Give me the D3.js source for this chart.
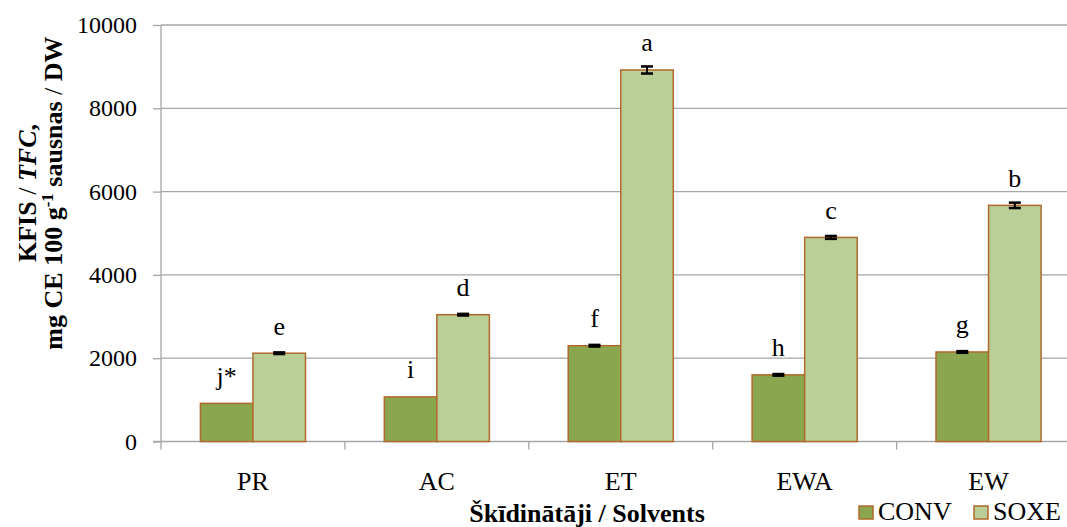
<!DOCTYPE html>
<html>
<head>
<meta charset="utf-8">
<script src="https://cdn.jsdelivr.net/npm/d3@7"></script>
<style>
  html, body { margin: 0; padding: 0; background: #fff; }
  svg { display: block; }
  text { font-family: "Liberation Serif", "Times New Roman", serif; fill: #000; }
</style>
</head>
<body>
<svg id="chart" width="1067" height="527"></svg>
<script>
const categories = ["PR", "AC", "ET", "EWA", "EW"];
const series = ["CONV", "SOXE"];
const convValues = [915, 1070, 2300, 1600, 2150];
const soxeValues = [2120, 3045, 8920, 4900, 5670];
const convErrors = [0, 0, 20, 20, 20];
const soxeErrors = [20, 20, 85, 35, 65];
const convLetters = ["j*", "i", "f", "h", "g"];
const soxeLetters = ["e", "d", "a", "c", "b"];
const yTicks = [0, 2000, 4000, 6000, 8000, 10000];

(function () {
const colors = { CONV: "#8aa64f", SOXE: "#bacf98" };
const barStroke = "#b0692a";
const gridColor = "#a6a6a6";
const serif = "'Liberation Serif', 'Times New Roman', serif";

const svg = d3.select("#chart");
const pLeft = 161, pRight = 1080.5, pTop = 25, pBottom = 441.5;

const y = d3.scaleLinear().domain([0, 10000]).range([pBottom, pTop]);
const x0 = d3.scaleBand().domain(categories).range([pLeft, pRight]).paddingInner(0).paddingOuter(0);
const x1 = d3.scaleBand().domain(series).range([0, x0.bandwidth()]).paddingInner(0).paddingOuter(0.75);

// gridlines
svg.append("g").selectAll("line").data(yTicks.filter(d => d > 0)).join("line")
  .attr("x1", pLeft).attr("x2", 1067)
  .attr("y1", d => y(d)).attr("y2", d => y(d))
  .attr("stroke", gridColor).attr("stroke-width", 1.3);

// y axis
const yAxis = d3.axisLeft(y).tickValues(yTicks).tickSize(8).tickPadding(16).tickFormat(d3.format("d"));
const gy = svg.append("g").attr("transform", `translate(${pLeft},0)`).call(yAxis);
gy.attr("font-family", serif).attr("font-size", 24);
gy.select(".domain").remove();
gy.selectAll(".tick line").attr("stroke", gridColor).attr("stroke-width", 1.3);
gy.selectAll(".tick text").attr("fill", "#000").attr("font-family", serif).attr("font-size", 24);
svg.append("line").attr("x1", pLeft).attr("x2", pLeft).attr("y1", pTop).attr("y2", pBottom + 8)
  .attr("stroke", gridColor).attr("stroke-width", 1.3);

// x axis baseline + ticks at band boundaries
svg.append("line").attr("x1", pLeft - 8).attr("x2", 1067).attr("y1", pBottom).attr("y2", pBottom)
  .attr("stroke", gridColor).attr("stroke-width", 1.3);
const bounds = categories.slice(1).map(c => x0(c));
svg.append("g").selectAll("line").data(bounds).join("line")
  .attr("x1", d => d).attr("x2", d => d).attr("y1", pBottom).attr("y2", pBottom + 8)
  .attr("stroke", gridColor).attr("stroke-width", 1.3);

// category labels
svg.append("g").selectAll("text").data(categories).join("text")
  .attr("x", d => x0(d) + x0.bandwidth() / 2).attr("y", 490)
  .attr("text-anchor", "middle").style("font-size", "26px").text(d => d);

// bars
const rows = categories.map((c, i) => ({
  cat: c,
  items: [
    { s: "CONV", v: convValues[i], e: convErrors[i], l: convLetters[i] },
    { s: "SOXE", v: soxeValues[i], e: soxeErrors[i], l: soxeLetters[i] }
  ]
}));

const groups = svg.append("g").selectAll("g").data(rows).join("g")
  .attr("transform", d => `translate(${x0(d.cat)},0)`);

groups.selectAll("rect").data(d => d.items).join("rect")
  .attr("x", d => x1(d.s)).attr("width", x1.bandwidth())
  .attr("y", d => y(d.v)).attr("height", d => y(0) - y(d.v))
  .attr("fill", d => colors[d.s]).attr("stroke", barStroke).attr("stroke-width", 1.5);

// error bars
const eb = groups.selectAll("g.err").data(d => d.items.filter(it => it.e > 0)).join("g").attr("class", "err");
const cx = d => x1(d.s) + x1.bandwidth() / 2;
eb.append("line")
  .attr("x1", cx).attr("x2", cx)
  .attr("y1", d => y(d.v + d.e)).attr("y2", d => y(d.v - d.e))
  .attr("stroke", "#000").attr("stroke-width", 2);
eb.append("line")
  .attr("x1", d => cx(d) - 6).attr("x2", d => cx(d) + 6)
  .attr("y1", d => y(d.v + d.e)).attr("y2", d => y(d.v + d.e))
  .attr("stroke", "#000").attr("stroke-width", 2.5);
eb.append("line")
  .attr("x1", d => cx(d) - 6).attr("x2", d => cx(d) + 6)
  .attr("y1", d => y(d.v - d.e)).attr("y2", d => y(d.v - d.e))
  .attr("stroke", "#000").attr("stroke-width", 2.5);

// significance letters
groups.selectAll("text.letter").data(d => d.items).join("text").attr("class", "letter")
  .attr("x", cx).attr("y", d => y(d.v) - 18.5)
  .attr("text-anchor", "middle").style("font-size", "26px").text(d => d.l);

// y axis title
const yt = svg.append("text").attr("transform", "translate(36,193) rotate(-90)")
  .attr("text-anchor", "middle").style("font-size", "26px").style("font-weight", "bold");
yt.append("tspan").text("KFIS ");
yt.append("tspan").style("font-weight", "normal").text("/");
yt.append("tspan").text(" ");
yt.append("tspan").style("font-style", "italic").text("TFC");
yt.append("tspan").text(",");

const yt2 = svg.append("text").attr("transform", "translate(62,193) rotate(-90)")
  .attr("text-anchor", "middle").style("font-size", "26px").style("font-weight", "bold");
yt2.append("tspan").text("mg CE 100 g");
yt2.append("tspan").attr("dy", -9).style("font-size", "17px").text("-1");
yt2.append("tspan").attr("dy", 9).text(" sausnas ");
yt2.append("tspan").style("font-weight", "normal").text("/");
yt2.append("tspan").text(" DW");

// x axis title
svg.append("text").attr("x", 587).attr("y", 521.5).attr("text-anchor", "middle")
  .style("font-size", "26px").style("font-weight", "bold").text("Škīdinātāji / Solvents");

// legend
const legend = svg.append("g").selectAll("g").data(series).join("g")
  .attr("transform", (d, i) => `translate(${[859, 974][i]},506)`);
legend.append("rect").attr("width", 14).attr("height", 13)
  .attr("fill", d => colors[d]).attr("stroke", barStroke).attr("stroke-width", 1.5);
legend.append("text").attr("x", 19).attr("y", 14).style("font-size", "26px").text(d => d);
})();
</script>
</body>
</html>
